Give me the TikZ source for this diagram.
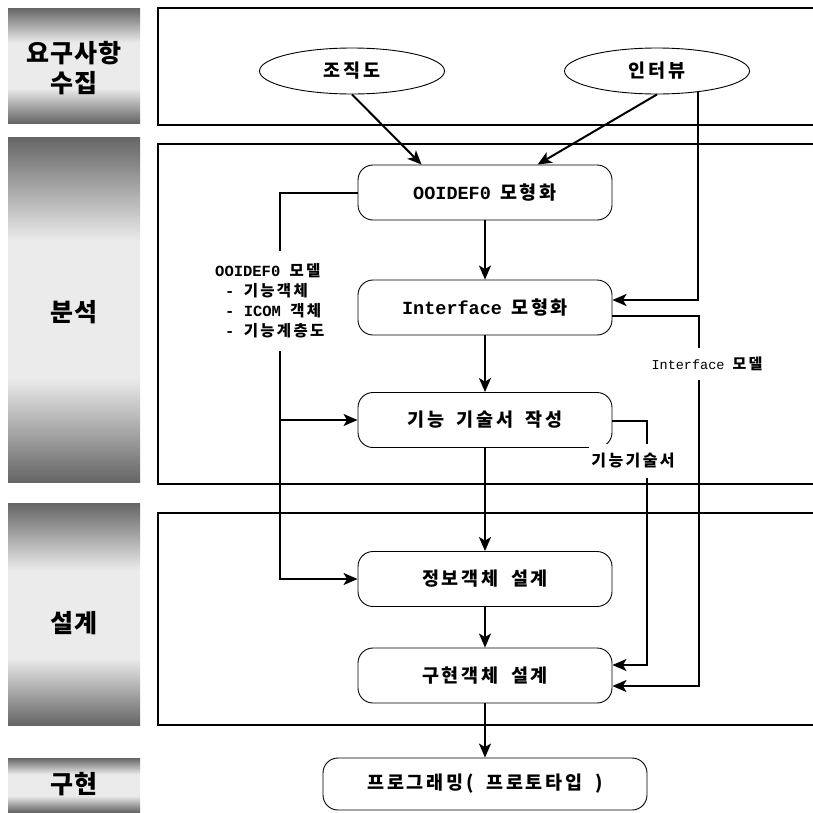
\documentclass[tikz,border=0pt]{standalone}
\usepackage{fontspec}
\setmainfont{Liberation Mono}
\newfontfamily\hangul{Noto Sans CJK KR}[LetterSpace=15,WordSpace=1.8]
\newfontfamily\hangulplain{Noto Sans CJK KR}[LetterSpace=4]
\usetikzlibrary{shapes.geometric,arrows.meta,calc}
\newcommand\ko[1]{{\hangul\bfseries #1}}
\newcommand\kostage[1]{{\hangulplain\bfseries #1}}
% grey band used behind the phase names: dark at both ends, light in the middle
\pgfdeclareverticalshading{stageband}{100bp}{color(0bp)=(black!93); color(18bp)=(black!85); color(40bp)=(black!8); color(60bp)=(black!8); color(82bp)=(black!85); color(100bp)=(black!93)}

\begin{document}
\begin{tikzpicture}[x=1pt,y=-1pt,
  frame/.style={line width=2.4pt},
  stagetext/.style={align=center, inner sep=0pt, font=\fontsize{25}{30}\selectfont},
  proc/.style={draw, line width=0.9pt, rounded corners=15pt, minimum width=254pt,
    minimum height=55pt, inner sep=0pt, font=\fontsize{18.5}{20}\selectfont\bfseries},
  src/.style={ellipse, draw, line width=0.9pt, minimum width=185pt, minimum height=46pt,
    inner sep=0pt, font=\fontsize{18.5}{20}\selectfont\bfseries},
  flow/.style={line width=2pt, -{Stealth[length=14pt,width=12pt,inset=3.5pt]}},
  lbl/.style={fill=white, inner xsep=2pt, inner ysep=0pt}
]
\clip (0,0) rectangle (813,812);
\fill[white] (0,0) rectangle (813,812);

% phase bands on the left
\shade[shading=stageband] (8,8) rectangle (140,123);
\shade[shading=stageband] (8,137) rectangle (140,482);
\shade[shading=stageband] (8,503) rectangle (140,725);
\shade[shading=stageband] (8,758) rectangle (140,812);
\node[stagetext] (s1) at (74,68) {\kostage{요구사항}\\\kostage{수집}};
\node[stagetext] (s2) at (74,312) {\kostage{분석}};
\node[stagetext] (s3) at (74,623) {\kostage{설계}};
\node[stagetext] (s4) at (74,784) {\kostage{구현}};

% phase frames (open to the right)
\draw[frame] (158,8) rectangle (840,125);
\draw[frame] (158,144) rectangle (840,484);
\draw[frame] (158,513) rectangle (840,725);

% sources
\node[src] (jo) at (352,71) {\ko{조직도}};
\node[src] (iv) at (657,71) {\ko{인터뷰}};

% process steps
\node[proc] (ooi) at (485,192.5) {OOIDEF0\hspace{0.5em}\ko{모형화}};
\node[proc] (int) at (485,307.5) {Interface\hspace{0.5em}\ko{모형화}};
\node[proc] (gi) at (485,420) {\ko{기능 기술서 작성}};
\node[proc] (jb) at (485,579) {\ko{정보객체 설계}};
\node[proc] (gh) at (485,675.5) {\ko{구현객체 설계}};
\node[proc, minimum width=324pt, minimum height=52pt] (prog) at (485,784) {\ko{프로그래밍( 프로토타입 )}};

% inputs from the sources
\draw[flow] (jo.south) -- ($(ooi.north west)+(64,0)$);
\draw[flow] (iv.south) -- ($(ooi.north west)+(180,0)$);
\draw[flow] (iv.-27) |- ($(int.east)+(0,-7.5)$);

% main sequence
\draw[flow] (ooi) -- (int);
\draw[flow] (int) -- (gi);
\draw[flow] (gi) -- (jb);
\draw[flow] (jb) -- (gh);
\draw[flow] (gh) -- (prog);

% OOIDEF0 model feeds
\coordinate (bend) at (280,192.5);
\draw[flow] (ooi.west) -- (bend) |- (jb.west);
\draw[flow] (bend |- gi.west) -- (gi.west);

% interface model feed
\draw[flow] ($(int.east)+(0,8.5)$) -- ++(87,0) |- ($(gh.east)+(0,10.5)$);

% function specification feed
\draw[flow] ($(gi.east)+(0,1)$) -- ++(35,0) |- ($(gh.east)+(0,-10.5)$);

% connector labels
\node[lbl, anchor=west, align=left, minimum height=100pt, font=\fontsize{15.5}{20}\selectfont\bfseries] (omod) at (213,301)
  {OOIDEF0 \ko{모델}\\\hspace*{10pt}- \ko{기능객체}\\\hspace*{10pt}- ICOM \ko{객체}\\\hspace*{10pt}- \ko{기능계층도}};
\node[lbl, minimum height=32pt, font=\fontsize{13.5}{16}\selectfont] (imod) at (707,364) {Interface \ko{\fontsize{15}{16}\selectfont 모델}};
\node[lbl, minimum height=34pt, font=\fontsize{16}{18}\selectfont] (fspec) at (633,461) {\ko{기능기술서}};
\end{tikzpicture}
\end{document}
